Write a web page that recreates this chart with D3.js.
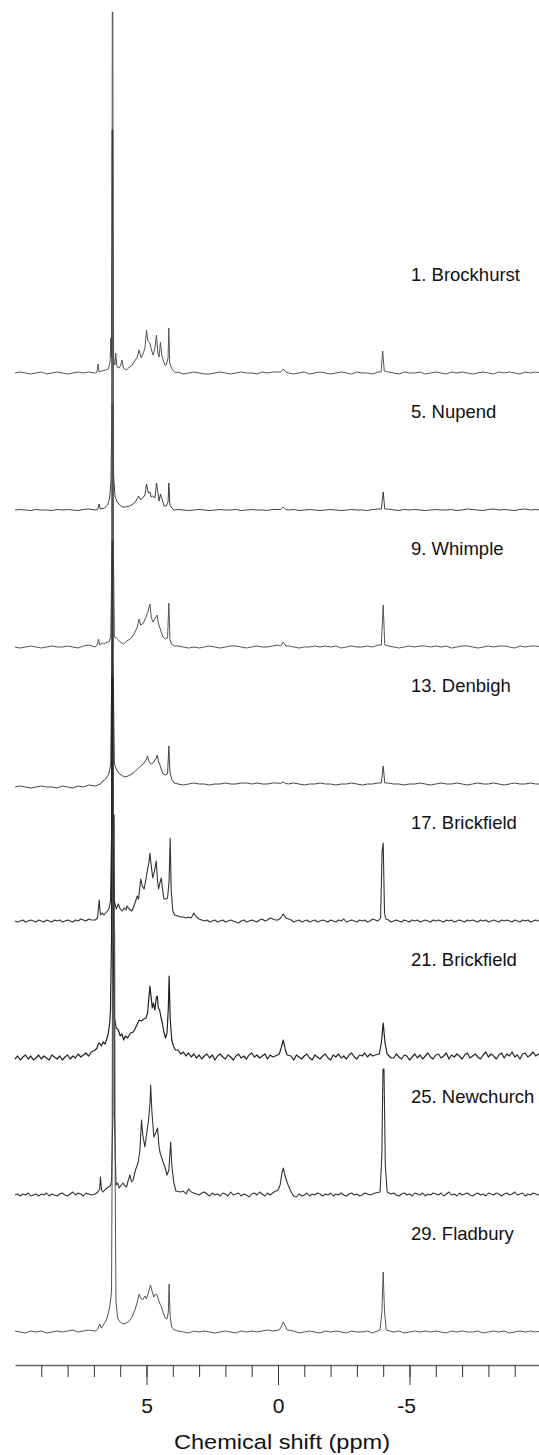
<!DOCTYPE html>
<html>
<head>
<meta charset="utf-8">
<script src="https://cdn.jsdelivr.net/npm/d3@7"></script>
<style>
  body { margin: 0; background: #fff; }
  svg { display: block; }
</style>
</head>
<body>
<script>
var width = 539,
    height = 1455;

// sample names, top to bottom
var sampleNames = ["1. Brockhurst", "5. Nupend", "9. Whimple", "13. Denbigh",
    "17. Brickfield", "21. Brickfield", "25. Newchurch", "29. Fladbury"];

// axis ticks (ppm)
var minorTicks = [9, 8, 7, 6, 5, 4, 3, 2, 1, 0, -1, -2, -3, -4, -5, -6, -7, -8, -9];
var majorTicks = [5, 0, -5];

// baseline readings from 10 to -10 ppm (101 values = every 0.2 ppm, 201 values = every 0.1 ppm)
var base1 = [0, 1, 0, -1, 0, 1, -1, 0, 1, 0, -1, 0, 1, 0, 1, 0, 0, 0, 0, 0,
    0, 0, 0, 0, 0, 0, 0, 0, 0, 0, 0, 1, -1, 0, 1, 0, -1, -1, 0, 1,
    0, -1, 0, 1, 0, 0, -1, 1, 0, 1, 1, 0, 0, -1, 0, 1, -1, 0, 1, 0,
    -1, 0, 1, 0, -1, 1, 0, 0, -1, 1, 0, 1, 0, -1, 1, 0, 0, 1, -1, 0,
    1, 0, -1, 1, 0, 1, 0, -1, 0, 1, 0, -1, 1, 0, 1, 0, -1, 1, 0, 1, 0];
var base2 = [0, 0.5, 0, -0.5, 0.5, 0, 0, -0.5, 0.5, 0, 0.5, 0, -0.5, 0.5, 1, 0.5, 0, 0, 0, 0,
    0, 0, 0, 0, 0, 0, 0, 0, 0, 0, 0, 0.5, 0, -0.5, 0, 0.5, 0, -0.5, 0, 0.5,
    0, 0, 0.5, -0.5, 0, 0.5, 0, 0, -0.5, 0.5, 0.5, 0, 0, 0.5, -0.5, 0, 0.5, 0, -0.5, 0,
    0.5, 0, -0.5, 0, 0.5, 0, 0, -0.5, 0.5, 1, 0, 1, 0, -0.5, 0.5, 0, 0.5, 0, -0.5, 0,
    0.5, 0, 0, 0.5, -0.5, 0, 1, 0.5, 0, -0.5, 0.5, 1, 0, 0.5, 0, -0.5, 0.5, 1, 0, 0.5, 0];
var base3 = [0, -1, 0, 1, 0, -1, 0, 1, 0, 0, 1, 0, -1, 1, 2, 2, 0, 0, 0, 0,
    0, 0, 0, 0, 0, 0, 0, 0, 0, 0, 0, 1, 0, -1, 0, -1, 0, 1, 0, -1,
    0, 1, 1, 0, -1, 0, 1, 0, 0, 1, 2, 0, 1, 0, -1, 0, 0, 1, 0, 1,
    0, 1, -1, 0, 1, 0, 0, 1, 0, 2, 0, 1, 0, -1, 0, 1, 0, 1, 1, 0,
    1, 0, 1, -1, 0, 1, 1, 0, -1, 0, 1, 0, 1, 1, 0, -1, 1, 0, 1, 1, 0];
var base4 = [-3, -2, -3, -4, -3, -2, -3, -3, -4, -2, -3, -4, -2, -3, -1, -2, 0, 0, 0, 0,
    0, 0, 0, 0, 0, 0, 0, 0, 0, 0, 0, 0, -1, 0, 1, 0, 0, -1, 0, 0,
    1, 0, 0, 1, 1, 0, 1, 0, 0, 1, 1, 0, 0, 1, 0, -1, 0, 0, 1, 0,
    0, -1, 0, 0, 1, 0, -1, 0, 0, 1, 0, 1, 0, 0, -1, 0, 0, 1, 0, -1,
    0, 1, 0, 0, 1, 0, -1, 0, 1, 0, 0, 1, 0, -1, 0, 1, 0, 0, 1, 0, 0];
var base5 = [0, -1, 0, 1, -1, 0, 1, 0, -1, 1, 0, -1, 1, 0, -1, 1, 0, 1, -1, 0,
    1, 0, -1, 1, 0, 2, 1, 0, 2, 1, 2, 0, 0, 0, 0, 0, 0, 0, 0, 0,
    0, 0, 0, 0, 0, 0, 0, 0, 0, 0, 0, 0, 0, 0, 0, 0, 0, 0, 0, 0,
    0, 0, 5, 4, 4, 3, 4, 3, 8, 4, 2, 1, 0, 1, -1, 0, 1, -1, 0, 1,
    -1, 0, 1, 0, -1, -2, 0, 1, -1, 0, 1, 0, -1, 1, 2, 0, 1, 3, 2, 1,
    1, 0, 0, 0, 2, 1, -1, 0, 1, -1, 0, 1, -1, 0, 1, -1, 0, 1, 0, -1,
    1, 0, -1, 1, 0, 2, -1, 0, 1, 0, -1, 1, 0, 1, -1, 0, 2, 1, 0, 0,
    0, 0, 1, -1, 0, 1, 0, -1, 1, 0, -1, 1, 0, 1, -1, 0, 1, 0, -1, 1,
    0, 1, 0, -1, 1, 0, 1, -1, 0, 1, 0, -1, 1, 0, 1, 0, -1, 1, 0, 1,
    -1, 0, 1, 0, -1, 1, 0, 1, 0, -1, 1, 0, -1, 1, 0, 1, -1, 0, 1, 0, 1];
var base6 = [-1, 2, -2, 1, 3, -1, 2, -2, 0, 3, -1, 2, 0, -2, 3, 1, -1, 2, -2, 1,
    3, -1, 2, 0, 4, 1, 3, 5, 2, 6, 7, 0, 0, 0, 0, 0, 0, 0, 0, 0,
    0, 0, 0, 0, 0, 0, 0, 0, 0, 0, 0, 0, 0, 0, 0, 0, 0, 0, 0, 0,
    0, 0, 8, 4, 6, 2, 5, 1, 4, 0, 3, -1, 2, 4, 0, 3, -2, 2, 4, 1,
    -1, 3, 1, -2, 2, 4, 0, 2, -1, 3, 5, 1, 3, 0, 2, 4, -1, 3, 1, 2,
    0, 0, 0, 0, 0, 2, -2, 3, 1, -1, 2, 4, 0, -2, 3, 1, -1, 2, 4, 0,
    -2, 3, 1, 4, 0, 2, -1, 3, 5, 1, -1, 3, 2, 5, 1, 4, 2, 3, 0, 0,
    0, 0, 0, 0, 0, 4, 1, -1, 3, 2, -2, 1, 4, 0, 3, -1, 2, 5, 1, -1,
    3, 4, 0, 2, 5, -1, 3, 1, 4, 2, -1, 3, 5, 0, 2, 4, 1, -1, 3, 6,
    1, 4, 2, -1, 3, 5, 0, 4, 2, 6, 1, 3, -1, 4, 5, 1, 3, 6, 2, 4, 3];
var base7 = [0, 1, -1, 1, 0, 2, -1, 0, 1, -1, 1, 0, 2, -1, 1, 0, -1, 1, 2, 0,
    -1, 1, 3, 0, 2, 1, -1, 2, 1, 0, 1, 0, 0, 0, 0, 0, 0, 0, 0, 0,
    0, 0, 0, 0, 0, 0, 0, 0, 0, 0, 0, 0, 0, 0, 0, 0, 0, 0, 0, 0,
    0, 0, 2, 3, 4, 1, 6, 3, 2, 1, 0, 2, 3, 1, -1, 2, 0, 1, -1, 2,
    1, -1, 3, 0, 1, 2, -1, 1, 0, -2, 1, 2, 0, 3, 1, -1, 2, 0, 0, 1,
    0, 0, 0, 0, 0, 0, 0, -2, 1, -1, 0, 2, -1, 1, 0, 2, 1, -1, 1, 0,
    2, -1, 1, 0, 2, 0, -1, 1, 2, 0, 1, -1, 0, 2, 1, 0, 1, 2, 0, 0,
    0, 0, 0, 1, 2, 0, -1, 1, 2, 0, 1, -1, 2, 1, 0, 2, -1, 1, 0, 2,
    1, 0, 2, -1, 1, 3, 0, 1, -1, 2, 0, 1, 2, 0, -1, 1, 2, 0, 1, -1,
    2, 1, 0, 2, 1, -1, 1, 2, 0, 1, 3, 0, 1, 2, -1, 1, 0, 2, 1, 0, 1];
var base8 = [1, 0, -1, 1, 0, 1, -1, 0, 1, 0, 1, 2, 0, 1, 2, 1, 0, 0, 0, 0,
    0, 0, 0, 0, 0, 0, 0, 0, 0, 0, 0, 1, 0, -1, 1, 0, 1, 0, -1, 0,
    1, 0, -1, 1, 0, 1, 0, 1, 2, 1, 0, 0, 0, 1, -1, 0, 1, 0, -1, 1,
    0, 1, 0, -1, 1, 0, 0, 1, -1, 0, 0, 1, 0, 1, -1, 0, 1, 0, 1, 0,
    1, 0, -1, 1, 0, 1, 0, 0, 1, -1, 0, 1, 0, 1, -1, 0, 1, 0, 1, 0, 1];

// peak readings [ppm, intensity]
var peaks1 = [[6.95, 0], [6.88, 1], [6.84, 9], [6.8, 1], [6.7, 2], [6.55, 3], [6.45, 4], [6.38, 12], [6.36, 35],
    [6.33, 15], [6.31, 150], [6.3, 361], [6.28, 361], [6.27, 150], [6.25, 15], [6.2, 8], [6.17, 20], [6.12, 6],
    [6.04, 5], [5.98, 8], [5.93, 13], [5.88, 5], [5.76, 3], [5.65, 6], [5.57, 7], [5.45, 12], [5.35, 16],
    [5.28, 23], [5.2, 15], [5.15, 18], [5.06, 25], [5.0, 43], [4.95, 32], [4.87, 30], [4.8, 22], [4.75, 18],
    [4.68, 25], [4.62, 38], [4.57, 20], [4.52, 16], [4.47, 31], [4.42, 18], [4.37, 13], [4.3, 8], [4.25, 8],
    [4.18, 15], [4.15, 45], [4.12, 10], [4.05, 5], [3.97, 2], [3.9, 0],
    [-0.1, 1], [-0.2, 4], [-0.3, 1], [-3.92, 1], [-3.98, 22], [-4.04, 2]];
var peaks2 = [[6.95, 0], [6.85, 1], [6.8, 6], [6.76, 1], [6.6, 2], [6.48, 5], [6.4, 12], [6.35, 30], [6.32, 90],
    [6.31, 380], [6.28, 380], [6.27, 120], [6.25, 35], [6.2, 14], [6.12, 8], [6.02, 5], [5.92, 3], [5.8, 3],
    [5.65, 4], [5.5, 6], [5.4, 9], [5.3, 14], [5.22, 10], [5.15, 12], [5.06, 15], [5.0, 26], [4.93, 17],
    [4.87, 18], [4.82, 13], [4.76, 14], [4.68, 12], [4.62, 27], [4.56, 16], [4.52, 9], [4.47, 16], [4.4, 10],
    [4.33, 4], [4.25, 4], [4.18, 8], [4.15, 27], [4.11, 5], [4.04, 2], [3.95, 0],
    [-0.1, 0.5], [-0.2, 3], [-0.3, 0.5], [-3.93, 1], [-4.0, 18], [-4.06, 1]];
var peaks3 = [[6.95, 0], [6.88, 2], [6.82, 8], [6.78, 2], [6.7, 4], [6.62, 3], [6.5, 5], [6.43, 5], [6.36, 10],
    [6.31, 100], [6.3, 380], [6.27, 380], [6.26, 100], [6.22, 10], [6.15, 9], [6.07, 7], [6.0, 5], [5.87, 3],
    [5.75, 6], [5.62, 8], [5.55, 10], [5.45, 14], [5.35, 20], [5.28, 28], [5.22, 22], [5.15, 23], [5.08, 26],
    [5.02, 30], [4.95, 35], [4.87, 43], [4.82, 30], [4.76, 25], [4.68, 28], [4.6, 32], [4.55, 24], [4.5, 20],
    [4.43, 14], [4.37, 10], [4.28, 8], [4.2, 9], [4.15, 44], [4.11, 8], [4.05, 3], [3.95, 1],
    [-0.1, 1], [-0.2, 5], [-0.3, 1], [-3.93, 2], [-4.0, 42], [-4.06, 2]];
var peaks4 = [[6.95, -2], [6.85, -1], [6.75, 0], [6.66, 3], [6.55, 5], [6.43, 10], [6.36, 20], [6.32, 120],
    [6.31, 380], [6.28, 380], [6.27, 120], [6.22, 20], [6.15, 15], [6.08, 12], [6.02, 10], [5.9, 8], [5.81, 7],
    [5.7, 8], [5.55, 10], [5.42, 13], [5.3, 16], [5.22, 18], [5.12, 20], [5.02, 24], [4.96, 28], [4.9, 22],
    [4.82, 20], [4.72, 22], [4.63, 26], [4.59, 29], [4.54, 22], [4.5, 20], [4.43, 14], [4.37, 10], [4.28, 9],
    [4.2, 10], [4.15, 38], [4.11, 12], [4.03, 4], [3.95, 1],
    [-0.1, 0.5], [-0.2, 2], [-0.3, 0.5], [-3.93, 1], [-4.0, 18], [-4.06, 1]];
var peaks5 = [[6.95, 1], [6.86, 3], [6.8, 21], [6.75, 6], [6.68, 8], [6.62, 6], [6.52, 9], [6.43, 12], [6.37, 20],
    [6.32, 100], [6.31, 380], [6.28, 380], [6.27, 100], [6.22, 20], [6.15, 12], [6.07, 17], [6.0, 12], [5.93, 10],
    [5.85, 13], [5.78, 11], [5.74, 15], [5.66, 12], [5.55, 10], [5.45, 17], [5.35, 25], [5.3, 22], [5.22, 42],
    [5.16, 35], [5.09, 32], [5.02, 42], [4.96, 52], [4.91, 58], [4.87, 68], [4.82, 55], [4.76, 43], [4.7, 50],
    [4.63, 60], [4.58, 40], [4.54, 32], [4.49, 38], [4.44, 43], [4.38, 30], [4.34, 22], [4.26, 22], [4.2, 23],
    [4.14, 40], [4.1, 83], [4.06, 30], [4.0, 10], [3.93, 6],
    [-0.1, 3], [-0.2, 7], [-0.3, 3], [-3.9, 3], [-3.96, 70], [-4.0, 78], [-4.05, 8], [-4.1, 2]];
var peaks6 = [[6.95, 8], [6.88, 10], [6.84, 14], [6.79, 15], [6.72, 12], [6.65, 16], [6.58, 14], [6.52, 18],
    [6.45, 25], [6.4, 35], [6.37, 47], [6.33, 120], [6.32, 380], [6.28, 380], [6.27, 120], [6.22, 40], [6.15, 30],
    [6.07, 28], [6.0, 22], [5.93, 24], [5.87, 18], [5.8, 22], [5.72, 20], [5.61, 25], [5.5, 26], [5.42, 30],
    [5.35, 34], [5.28, 38], [5.2, 37], [5.1, 39], [5.02, 40], [4.96, 45], [4.91, 60], [4.87, 72], [4.83, 62],
    [4.78, 50], [4.74, 55], [4.68, 48], [4.63, 60], [4.59, 62], [4.55, 50], [4.5, 48], [4.46, 42], [4.4, 35],
    [4.33, 25], [4.28, 20], [4.22, 25], [4.17, 50], [4.14, 82], [4.1, 40], [4.04, 18], [3.98, 12], [3.9, 8],
    [-0.05, 4], [-0.12, 10], [-0.2, 18], [-0.28, 8], [-0.35, 3],
    [-3.85, 4], [-3.93, 15], [-4.0, 35], [-4.07, 15], [-4.15, 4]];
var peaks7 = [[6.95, 1], [6.85, 3], [6.78, 6], [6.75, 18], [6.71, 5], [6.65, 3], [6.55, 6], [6.45, 8], [6.38, 9],
    [6.33, 13], [6.28, 80], [6.27, 380], [6.23, 380], [6.22, 80], [6.16, 10], [6.1, 12], [6.04, 7], [5.96, 10],
    [5.89, 12], [5.82, 9], [5.76, 8], [5.7, 14], [5.63, 20], [5.57, 13], [5.51, 15], [5.42, 25], [5.32, 32],
    [5.25, 45], [5.19, 75], [5.14, 60], [5.06, 48], [5.0, 60], [4.92, 75], [4.86, 95], [4.84, 110], [4.8, 85],
    [4.72, 58], [4.65, 62], [4.58, 67], [4.53, 50], [4.49, 43], [4.43, 38], [4.37, 33], [4.3, 28], [4.22, 20],
    [4.15, 25], [4.1, 45], [4.08, 53], [4.04, 30], [3.96, 12], [3.88, 4],
    [0.15, 3], [0.0, 5], [-0.08, 10], [-0.15, 22], [-0.2, 27], [-0.26, 20], [-0.33, 14], [-0.4, 9], [-0.5, 3],
    [-0.6, -1], [-3.88, 3], [-3.95, 40], [-3.99, 126], [-4.03, 126], [-4.08, 30], [-4.15, 3]];
var peaks8 = [[6.95, 1], [6.85, 3], [6.78, 8], [6.72, 4], [6.62, 8], [6.52, 12], [6.46, 18], [6.4, 25], [6.35, 35],
    [6.33, 42], [6.31, 150], [6.29, 400], [6.21, 400], [6.19, 150], [6.16, 30], [6.1, 15], [6.08, 13], [6.0, 10],
    [5.89, 8], [5.78, 9], [5.7, 10], [5.63, 12], [5.55, 15], [5.44, 22], [5.35, 30], [5.28, 38], [5.22, 34],
    [5.15, 32], [5.06, 36], [5.0, 33], [4.92, 40], [4.85, 47], [4.78, 40], [4.72, 35], [4.66, 38], [4.6, 37],
    [4.52, 30], [4.43, 25], [4.35, 18], [4.28, 14], [4.22, 13], [4.17, 20], [4.14, 48], [4.1, 15], [4.04, 5],
    [3.95, 2],
    [-0.05, 2], [-0.12, 5], [-0.2, 10], [-0.28, 6], [-0.35, 2],
    [-3.88, 2], [-3.95, 20], [-4.0, 60], [-4.05, 20], [-4.12, 2]];

var baselines = [base1, base2, base3, base4, base5, base6, base7, base8];
var peakLists = [peaks1, peaks2, peaks3, peaks4, peaks5, peaks6, peaks7, peaks8];

// look of each trace
var traceColor = ["#555", "#2a2a2a", "#555", "#444", "#333", "#222", "#333", "#555"];
var traceWidth = [1, 0.9, 1, 1, 1.1, 1.2, 1.1, 1];

var firstBase = 373, spacing = 137, axisY = 1365;
var font = "'Liberation Sans', Arial, Helvetica, sans-serif";

var svg = d3.select("body")
    .append("svg")
    .attr("width", width)
    .attr("height", height);

svg.append("rect").attr("width", width).attr("height", height).attr("fill", "#fff");

var x = d3.scaleLinear()
    .domain([10, -10])
    .range([15, 541]);

// intensity -> pixels above baseline
var y = d3.scaleLinear()
    .domain([0, 400])
    .range([0, -400]);

var line = d3.line()
    .x(function (d) { return x(d[0]); })
    .y(function (d) { return y(d[1]); });

function buildTrace(base, peaks) {
    var step = 20 / (base.length - 1);
    var pts = [];
    base.forEach(function (v, i) {
        var ppm = 10 - i * step;
        if (ppm < 6.95 && ppm > 3.85) return;
        var near = peaks.some(function (p) { return Math.abs(p[0] - ppm) < 0.09; });
        if (!near) pts.push([ppm, v]);
    });
    pts = pts.concat(peaks);
    pts.sort(function (a, b) { return b[0] - a[0]; });
    return pts;
}

var traces = svg.append("g").attr("class", "traces");

sampleNames.forEach(function (name, i) {
    var baseY = firstBase + i * spacing;
    var g = traces.append("g")
        .attr("transform", "translate(0," + baseY + ")");

    g.append("path")
        .datum(buildTrace(baselines[i], peakLists[i]))
        .attr("d", line)
        .attr("fill", "none")
        .attr("stroke", traceColor[i])
        .attr("stroke-width", traceWidth[i])
        .attr("stroke-linejoin", "round");

    g.append("text")
        .attr("x", 411)
        .attr("y", -92)
        .attr("font-family", font)
        .attr("font-size", 18.5)
        .attr("fill", "#111")
        .text(name);
});

// axis
var minorAxis = d3.axisBottom(x)
    .tickValues(minorTicks)
    .tickSize(12)
    .tickSizeOuter(0)
    .tickFormat("");

var gAxis = svg.append("g")
    .attr("transform", "translate(0," + axisY + ")")
    .call(minorAxis);
gAxis.select(".domain").attr("stroke", "#666").attr("stroke-width", 1.6);
gAxis.selectAll(".tick line").attr("stroke", "#333");

var majorAxis = d3.axisBottom(x)
    .tickValues(majorTicks)
    .tickSize(20)
    .tickPadding(13)
    .tickFormat(function (d) { return String(d); });

var gMajor = svg.append("g")
    .attr("transform", "translate(0," + axisY + ")")
    .call(majorAxis);
gMajor.select(".domain").remove();
gMajor.selectAll(".tick line").attr("stroke", "#333");
gMajor.selectAll(".tick text")
    .attr("font-family", font)
    .attr("font-size", 21)
    .attr("fill", "#111")
    .attr("text-anchor", "end")
    .attr("dx", "0.28em");

svg.append("text")
    .attr("x", 282)
    .attr("y", 1449)
    .attr("text-anchor", "middle")
    .attr("font-family", font)
    .attr("font-size", 20.5)
    .attr("textLength", 216)
    .attr("lengthAdjust", "spacingAndGlyphs")
    .attr("fill", "#111")
    .text("Chemical shift (ppm)");
</script>
</body>
</html>
